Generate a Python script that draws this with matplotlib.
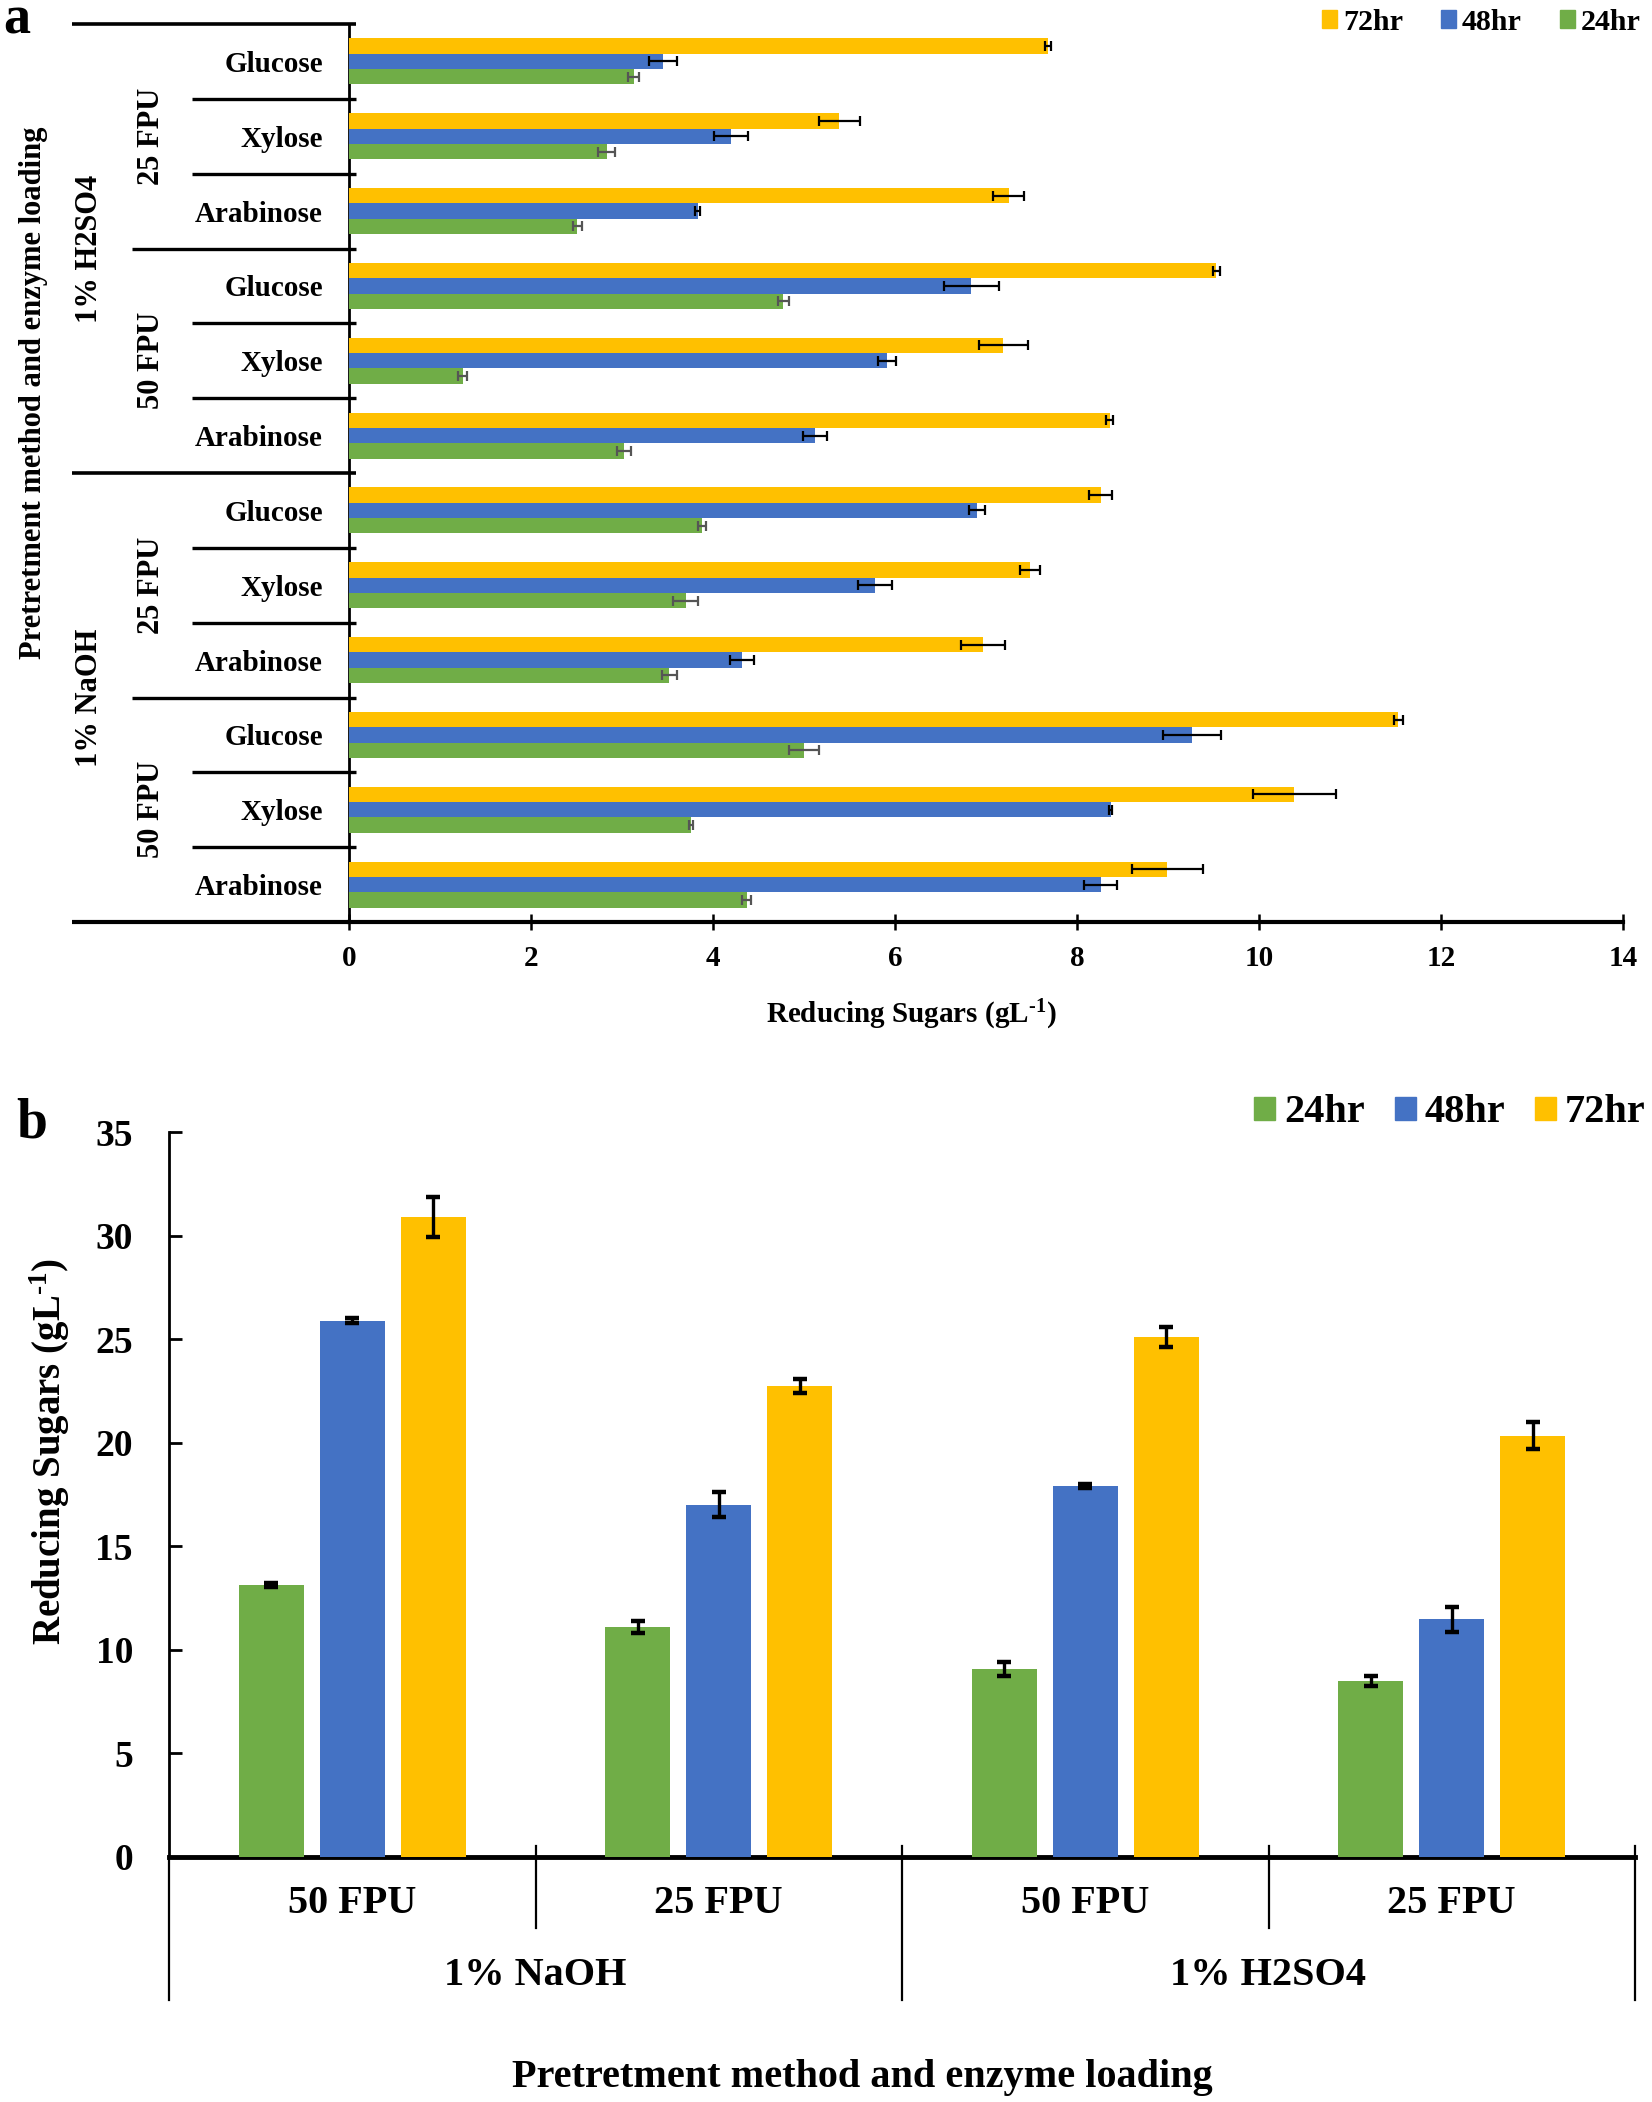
import matplotlib
matplotlib.use('Agg')
import matplotlib.pyplot as plt
import numpy as np
from matplotlib.transforms import blended_transform_factory
from matplotlib.patches import Patch

plt.rcParams['font.family'] = ['Liberation Serif', 'DejaVu Serif']
plt.rcParams['font.weight'] = 'bold'
plt.rcParams['mathtext.fontset'] = 'custom'
plt.rcParams['mathtext.rm'] = 'Liberation Serif:bold'
plt.rcParams['mathtext.bf'] = 'Liberation Serif:bold'
plt.rcParams['mathtext.it'] = 'Liberation Serif:bold'

# ---------------- Panel a data ----------------
sugars = ['Glucose', 'Xylose', 'Arabinose'] * 4
loadings_a = ['25 FPU', '50 FPU', '25 FPU', '50 FPU']
methods_a = ['1% H2SO4', '1% NaOH']
a_72 = [7.68, 5.39, 7.25, 9.53, 7.19, 8.36, 8.26, 7.48, 6.97, 11.53, 10.39, 8.99]
a_72_err = [0.03, 0.22, 0.17, 0.04, 0.27, 0.04, 0.13, 0.11, 0.24, 0.05, 0.46, 0.39]
a_48 = [3.45, 4.20, 3.83, 6.84, 5.91, 5.12, 6.90, 5.78, 4.32, 9.26, 8.37, 8.26]
a_48_err = [0.15, 0.19, 0.03, 0.30, 0.10, 0.13, 0.09, 0.19, 0.13, 0.32, 0.02, 0.18]
a_24 = [3.13, 2.83, 2.51, 4.77, 1.25, 3.02, 3.88, 3.70, 3.52, 5.00, 3.76, 4.37]
a_24_err = [0.06, 0.09, 0.05, 0.06, 0.05, 0.08, 0.04, 0.14, 0.08, 0.17, 0.02, 0.05]
a_xticks = [0, 2, 4, 6, 8, 10, 12, 14]

# ---------------- Panel b data ----------------
loadings_b = ['50 FPU', '25 FPU', '50 FPU', '25 FPU']
methods_b = ['1% NaOH', '1% H2SO4']
b_24 = [13.15, 11.10, 9.08, 8.50]
b_24_err = [0.10, 0.30, 0.33, 0.23]
b_48 = [25.90, 17.00, 17.92, 11.47]
b_48_err = [0.10, 0.60, 0.10, 0.60]
b_72 = [30.90, 22.75, 25.10, 20.34]
b_72_err = [0.97, 0.34, 0.50, 0.65]
b_yticks = [0, 5, 10, 15, 20, 25, 30, 35]

c24 = '#70AD47'
c48 = '#4472C4'
c72 = '#FFC000'

ylab = r'Reducing Sugars (gL$^{\text{-1}}$)'

W, H = 1652, 2102
fig = plt.figure(figsize=(W / 100, H / 100), dpi=100)


def fx(px):
    return px / W


def fy(py):
    return 1 - py / H


# ================= Panel a =================
axa = fig.add_axes([fx(349), fy(922), fx(1623) - fx(349), fy(24) - fy(922)])
n = len(sugars)
ya = np.arange(n)
hb = 0.205
ekw_dark = dict(ecolor='black', elinewidth=1.6, capsize=3.6, capthick=1.6, zorder=4)
ekw_gray = dict(ecolor='#555555', elinewidth=1.6, capsize=3.6, capthick=1.6, zorder=4)
axa.barh(ya - hb, a_72, height=hb, color=c72, xerr=a_72_err, error_kw=ekw_dark, zorder=3)
axa.barh(ya, a_48, height=hb, color=c48, xerr=a_48_err, error_kw=ekw_dark, zorder=3)
axa.barh(ya + hb, a_24, height=hb, color=c24, xerr=a_24_err, error_kw=ekw_gray, zorder=3)
axa.set_xlim(0, 14)
axa.set_ylim(n - 0.5, -0.5)
axa.set_yticks([])
axa.set_xticks(a_xticks)
axa.tick_params(axis='x', direction='inout', length=12, width=1.8, pad=10.5, labelsize=21)
for s in ['top', 'right']:
    axa.spines[s].set_visible(False)
axa.spines['left'].set_linewidth(2.0)
axa.spines['bottom'].set_linewidth(3.0)

ta = blended_transform_factory(axa.transAxes, axa.transData)
for k in range(n + 1):
    yy = k - 0.5
    if k in (0, 6, 12):
        x0, lw = -0.2174, 2.6
    elif k in (3, 9):
        x0, lw = -0.1703, 2.4
    else:
        x0, lw = -0.1232, 2.4
    x1 = 0.0 if k == 12 else 0.0055
    axa.plot([x0, x1], [yy, yy], color='black', lw=(3.0 if k == 12 else lw),
             transform=ta, clip_on=False, solid_capstyle='butt')

for i, s in enumerate(sugars):
    axa.text(-0.0204, i + 0.04, s, ha='right', va='center', transform=ta, fontsize=21)
for j, lab in enumerate(loadings_a):
    axa.text(-0.1554, 3 * j + 1, lab, ha='center', va='center', rotation=90,
             transform=ta, fontsize=22)
for j, lab in enumerate(methods_a):
    axa.text(-0.2033, 6 * j + 2.5, lab, ha='center', va='center', rotation=90,
             transform=ta, fontsize=22)

fig.text(fx(34), fy(393), 'Pretretment method and enzyme loading', rotation=90,
         ha='center', va='center', fontsize=22)
fig.text(fx(911), fy(1015), ylab, ha='center', va='center', fontsize=21)
fig.text(fx(3), fy(33), 'a', ha='left', va='baseline', fontsize=39)

ha_handles = [Patch(color=c72), Patch(color=c48), Patch(color=c24)]
fig.legend(ha_handles, ['72hr', '48hr', '24hr'], loc='center left',
           bbox_to_anchor=(fx(1322), fy(22)), ncol=3, frameon=False, fontsize=21.6,
           handlelength=0.5, handleheight=0.57, handletextpad=0.2, columnspacing=1.27,
           borderpad=0, borderaxespad=0)

# ================= Panel b =================
axb = fig.add_axes([fx(169), fy(1857), fx(1635) - fx(169), fy(1132) - fy(1857)])
xb = np.arange(len(loadings_b))
wb = 0.177
off = 0.221
ekw_b = dict(ecolor='black', elinewidth=2.4, capsize=4.7, capthick=3.2, zorder=4)
axb.bar(xb - off, b_24, width=wb, color=c24, yerr=b_24_err, error_kw=ekw_b, zorder=3)
axb.bar(xb, b_48, width=wb, color=c48, yerr=b_48_err, error_kw=ekw_b, zorder=3)
axb.bar(xb + off, b_72, width=wb, color=c72, yerr=b_72_err, error_kw=ekw_b, zorder=3)
axb.set_xlim(-0.5, len(loadings_b) - 0.5)
axb.set_ylim(0, 35)
axb.set_yticks(b_yticks)
axb.set_xticks([])
axb.tick_params(axis='y', direction='in', length=9.5, width=2, pad=26, labelsize=27)
for s in ['top', 'right']:
    axb.spines[s].set_visible(False)
axb.spines['left'].set_linewidth(2.0)
axb.spines['bottom'].set_linewidth(3.5)

tb = blended_transform_factory(axb.transData, axb.transAxes)
for xv, y0, y1 in [(-0.5, 0.0, -0.1972), (0.5, 0.0152, -0.0979), (1.5, 0.0152, -0.1972),
                   (2.5, 0.0152, -0.0979), (3.5, 0.0152, -0.1972)]:
    axb.plot([xv, xv], [y0, y1], color='black', lw=1.6, transform=tb, clip_on=False)
for j, lab in enumerate(loadings_b):
    axb.text(j, -0.0648, lab, ha='center', va='center', transform=tb, fontsize=29)
for j, lab in enumerate(methods_b):
    axb.text(2 * j + 0.5, -0.1628, lab, ha='center', va='center', transform=tb, fontsize=29)

fig.text(fx(50), fy(1451), ylab, rotation=90, ha='center', va='center', fontsize=28)
fig.text(fx(862), fy(2078), 'Pretretment method and enzyme loading', ha='center',
         va='center', fontsize=29)
fig.text(fx(16), fy(1137), 'b', ha='left', va='baseline', fontsize=40)

hb_handles = [Patch(color=c24), Patch(color=c48), Patch(color=c72)]
fig.legend(hb_handles, ['24hr', '48hr', '72hr'], loc='center left',
           bbox_to_anchor=(fx(1254), fy(1113)), ncol=3, frameon=False, fontsize=29,
           handlelength=0.52, handleheight=0.5, handletextpad=0.22, columnspacing=0.75,
           borderpad=0, borderaxespad=0)

fig.savefig('out.png', dpi=100)
